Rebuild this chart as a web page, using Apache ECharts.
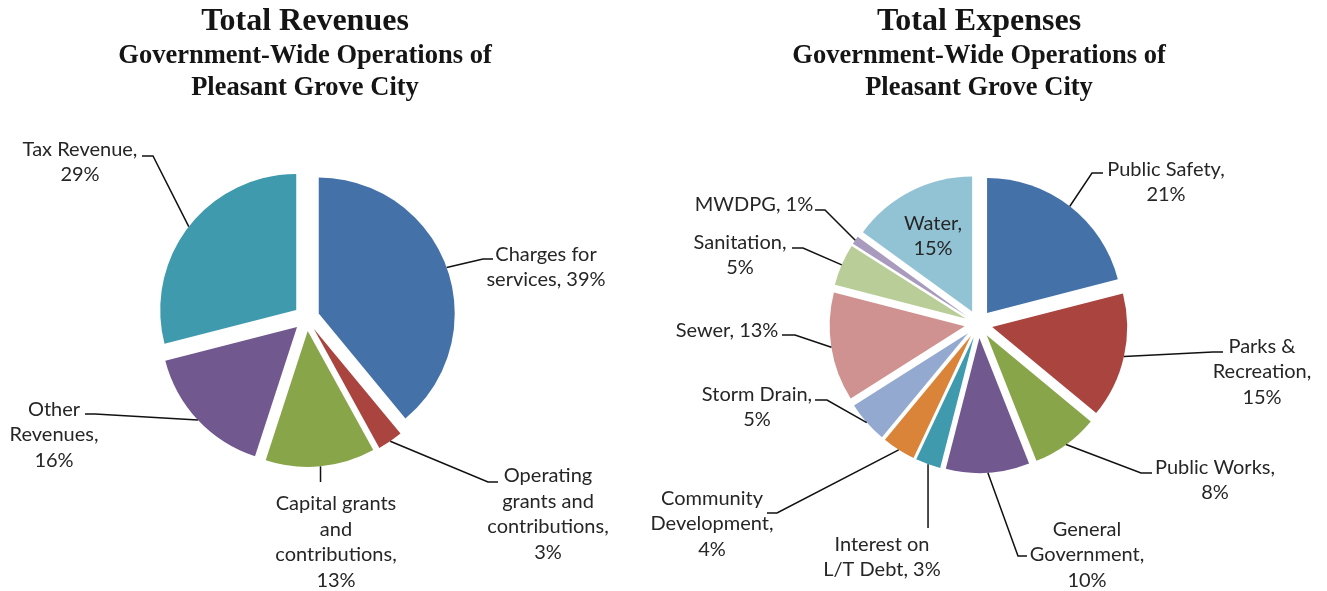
<!DOCTYPE html>
<html><head><meta charset="utf-8">
<script src="https://cdn.jsdelivr.net/npm/echarts@6/dist/echarts.min.js"></script>
<style>html,body{margin:0;padding:0;background:#fff}#c{width:1327px;height:591px}</style>
</head><body><div id="c"></div>
<script>
// ---- data ----
const revCategories = ['Charges for services', 'Operating grants and contributions', 'Capital grants and contributions', 'Other Revenues', 'Tax Revenue'];
const revValues = [39, 3, 13, 16, 29];
const revLabelText = ['Charges for\nservices, {d}%', 'Operating\ngrants and\ncontributions,\n{d}%', 'Capital grants\nand\ncontributions,\n{d}%', 'Other\nRevenues,\n{d}%', 'Tax Revenue,\n{d}%'];

const expCategories = ['Public Safety', 'Parks & Recreation', 'Public Works', 'General Government', 'Interest on L/T Debt', 'Community Development', 'Storm Drain', 'Sewer', 'Sanitation', 'MWDPG', 'Water'];
const expValues = [21, 15, 8, 10, 3, 4, 5, 13, 5, 1, 15];
const expLabelText = ['Public Safety,\n{d}%', 'Parks &\nRecreation,\n{d}%', 'Public Works,\n{d}%', 'General\nGovernment,\n{d}%', 'Interest on\nL/T Debt, {d}%', 'Community\nDevelopment,\n{d}%', 'Storm Drain,\n{d}%', 'Sewer, {d}%', 'Sanitation,\n{d}%', 'MWDPG, {d}%', 'Water,\n{d}%'];

const revTitle = ['Total Revenues', 'Government-Wide Operations of', 'Pleasant Grove City'];
const expTitle = ['Total Expenses', 'Government-Wide Operations of', 'Pleasant Grove City'];

// ---- styles / layout ----
const revColors = ['#4472A8', '#A9443F', '#88A54A', '#71588F', '#3F9AAE'];
const expColors = ['#4472A8', '#A9443F', '#88A54A', '#71588F', '#3F9AAE', '#DA843A', '#93A9CF', '#D09290', '#B8CD97', '#A99BBD', '#92C3D5'];

const revLabelLayout = [
  {x: 546, y: 267, end: [493, 259], el: -10},
  {x: 548, y: 514, end: [498, 482], el: -10},
  {x: 336, y: 542, endY: 482},
  {x: 54, y: 435, end: [85, 414], el: 10},
  {x: 80, y: 162, end: [142, 156], el: 11}
];
const expLabelLayout = [
  {x: 1166, y: 182, end: [1103, 173], el: -11},
  {x: 1262, y: 372, end: [1223, 352], el: -10},
  {x: 1215, y: 480, end: [1152, 473], el: -11},
  {x: 1087, y: 555, end: [1027, 556], el: -9},
  {x: 882, y: 557, endY: 528},
  {x: 712, y: 524, end: [767, 513], el: 10},
  {x: 757, y: 407, end: [815, 400], el: 12},
  {x: 727, y: 331, end: [782, 335], el: 13},
  {x: 740, y: 255, end: [792, 248], el: 11},
  {x: 754, y: 205, end: [815, 210], el: 10},
  {x: 933, y: 236, inside: true}
];

const REV_OFFSET = 13, EXP_OFFSET = 14;
const REV_CENTER = [306.5, 318], EXP_CENTER = [978.5, 324];
const REV_R = 136, EXP_R = 135;

// label layout: anchor comes from the library's label-line start (unexploded edge),
// shifted outward along the slice direction by the explode offset
function makeLayout(cfg, offset) {
  return function (params) {
    const c = cfg[params.dataIndex];
    const out = {x: c.x, y: c.y, align: 'center', verticalAlign: 'middle'};
    const pts = params.labelLinePoints;
    if (!c.inside && pts && pts.length >= 2) {
      const a = pts[0], b = pts[1];
      let vx = b[0] - a[0], vy = b[1] - a[1];
      const L = Math.hypot(vx, vy) || 1; vx /= L; vy /= L;
      const ax = a[0] + vx * offset, ay = a[1] + vy * offset;
      let p1, p2;
      if (c.endY != null) { p2 = [ax, c.endY]; p1 = [ax, (ay + c.endY) / 2]; }
      else { p2 = c.end; p1 = [c.end[0] + c.el, c.end[1]]; }
      out.labelLinePoints = [[ax, ay], p1, p2];
    }
    return out;
  };
}

function sliceData(cats, vals, colors) {
  return cats.map((n, i) => ({name: n, value: vals[i], selected: true, itemStyle: {color: colors[i]}}));
}
function labelData(cats, vals, cfg) {
  return cats.map((n, i) => {
    const d = {name: n, value: vals[i]};
    if (cfg[i].inside) { d.label = {position: 'inside'}; d.labelLine = {show: false}; }
    return d;
  });
}

const labelStyle = (texts) => ({
  show: true, position: 'outside',
  formatter: (p) => texts[p.dataIndex].replace('{d}', Math.round(p.percent)),
  fontFamily: 'Lato', fontSize: 20, lineHeight: 25.5, color: '#262626', align: 'center'
});
const lineStyle = {show: true, length: 10, length2: 10, smooth: false, lineStyle: {color: '#111', width: 1.5}};

function titleGraphics(lines, cx) {
  const ys = [22, 56, 88];
  return lines.map((t, i) => ({
    type: 'text', x: cx, y: ys[i], silent: true,
    style: {text: t, font: (i === 0 ? 'bold 32px' : 'bold 26.5px') + ' "Liberation Serif", "Times New Roman", serif',
      fill: '#151515', align: 'center', verticalAlign: 'middle', textAlign: 'center', textVerticalAlign: 'middle'}
  }));
}

function pieSeries(center, r, offset, data) {
  return {
    type: 'pie', center: center, radius: r, startAngle: 90, clockwise: true,
    selectedMode: 'multiple', selectedOffset: offset, avoidLabelOverlap: false,
    emphasis: {disabled: true}, silent: true,
    label: {show: false}, labelLine: {show: false},
    data: data
  };
}
function labelSeries(center, r, offset, texts, cfg, data) {
  return {
    type: 'pie', center: center, radius: r, startAngle: 90, clockwise: true,
    selectedMode: false, avoidLabelOverlap: false, percentPrecision: 0,
    emphasis: {disabled: true}, silent: true, z: 3,
    itemStyle: {color: 'rgba(0,0,0,0)', borderWidth: 0},
    label: labelStyle(texts), labelLine: lineStyle,
    labelLayout: makeLayout(cfg, offset),
    data: data
  };
}

const chart = echarts.init(document.getElementById('c'), null, {renderer: 'canvas'});
chart.setOption({
  animation: false,
  backgroundColor: '#fff',
  graphic: titleGraphics(revTitle, 305).concat(titleGraphics(expTitle, 979)),
  series: [
    pieSeries(REV_CENTER, REV_R, REV_OFFSET, sliceData(revCategories, revValues, revColors)),
    labelSeries(REV_CENTER, REV_R, REV_OFFSET, revLabelText, revLabelLayout, labelData(revCategories, revValues, revLabelLayout)),
    pieSeries(EXP_CENTER, EXP_R, EXP_OFFSET, sliceData(expCategories, expValues, expColors)),
    labelSeries(EXP_CENTER, EXP_R, EXP_OFFSET, expLabelText, expLabelLayout, labelData(expCategories, expValues, expLabelLayout))
  ]
});
</script></body></html>
